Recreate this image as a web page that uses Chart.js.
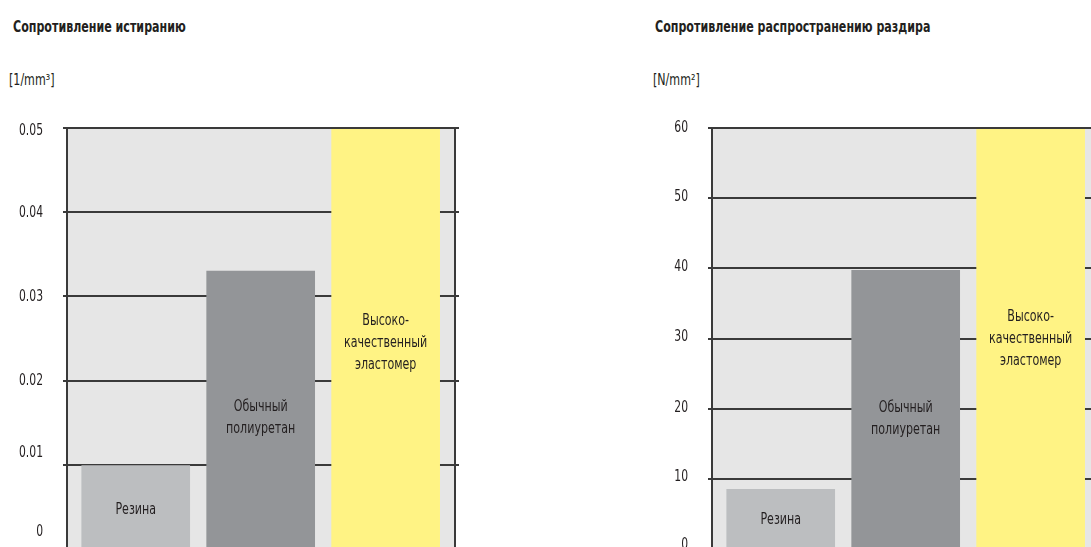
<!DOCTYPE html>
<html>
<head>
<meta charset="utf-8">
<script src="https://cdn.jsdelivr.net/npm/chart.js@4.4.0/dist/chart.umd.min.js"></script>
<style>
html, body { margin: 0; padding: 0; background: #fff; overflow: hidden; width: 1091px; height: 547px; position: relative; }
.t { position: absolute; font-family: 'DejaVu Sans Condensed', 'DejaVu Sans', sans-serif; color: #231f20; white-space: nowrap; transform: scaleX(0.77); transform-origin: 0 0; }
.title { font-weight: bold; font-size: 16px; top: 17px; }
.unit { font-size: 16px; top: 70px; }
canvas { position: absolute; top: 0; }
</style>
</head>
<body>
<div class="t title" style="left:13px">Сопротивление истиранию</div>
<div class="t unit" style="left:9px">[1/mm³]</div>
<div class="t title" style="left:655px">Сопротивление распространению раздира</div>
<div class="t unit" style="left:653px">[N/mm²]</div>
<canvas id="c1" width="470" height="560" style="left:0px"></canvas>
<canvas id="c2" width="470" height="560" style="left:645px"></canvas>
<script>
// материалы (подписи внутри столбиков)
const materials = [['Резина'], ['Обычный', 'полиуретан'], ['Высоко-', 'качественный', 'эластомер']];
const barColors = ['#bcbec0', '#939598', '#fff384'];

// сопротивление истиранию, 1/mm3
const abrasionValues = [0.0099, 0.033, 0.05];
const abrasionLabelAt = [0.0046, 0.0156, 0.0245];

// сопротивление распространению раздира
const tearValues = [8.5, 39.7, 60];
const tearLabelAt = [4.1, 18.6, 30.0];

const FONT = "'DejaVu Sans Condensed', 'DejaVu Sans', sans-serif";
const LINE = '#3a3a3a';
const INK = '#231f20';

// узкий текст: шрифт сжимается по горизонтали
function narrowText(ctx, s, x, y, align, k) {
    ctx.save();
    ctx.translate(x, y);
    ctx.scale(k, 1);
    ctx.textAlign = align;
    ctx.fillText(s, 0, 0);
    ctx.restore();
}

const areaBg = {
    id: 'areaBg',
    beforeDraw(chart) {
        const a = chart.chartArea, ctx = chart.ctx;
        ctx.save();
        ctx.fillStyle = '#e6e6e6';
        ctx.fillRect(a.left, a.top, a.right - a.left, a.bottom - a.top);
        ctx.restore();
    }
};

const barText = {
    id: 'barText',
    afterDatasetsDraw(chart, args, opts) {
        const ctx = chart.ctx, a = chart.chartArea;
        // верхняя рамка поверх столбиков
        ctx.save();
        ctx.strokeStyle = LINE;
        ctx.lineWidth = 2;
        ctx.beginPath();
        ctx.moveTo(a.left - 4, a.top);
        ctx.lineTo(a.right + 4, a.top);
        ctx.stroke();

        const meta = chart.getDatasetMeta(0);
        const y = chart.scales.y;
        ctx.fillStyle = INK;
        ctx.font = '16px ' + FONT;
        ctx.textBaseline = 'middle';
        meta.data.forEach((bar, i) => {
            const lines = materials[i];
            const cy = y.getPixelForValue(opts.at[i]);
            const lh = 22;
            lines.forEach((s, j) => {
                narrowText(ctx, s, bar.x, cy + (j - (lines.length - 1) / 2) * lh, 'center', 0.77);
            });
        });

        // подписи делений оси (в оригинале часть подписей смещена)
        ctx.font = '15px ' + FONT;
        y.ticks.forEach((t, i) => {
            const dy = opts.shift[i] || 0;
            narrowText(ctx, String(t.label), a.left - 24, y.getPixelForValue(t.value) + dy, 'right', 0.8);
        });
        ctx.restore();
    }
};

function makeChart(id, values, labelAt, maxV, step, shift) {
    new Chart(document.getElementById(id), {
        type: 'bar',
        data: {
            datasets: [{
                data: values.map((v, i) => ({ x: i, y: v })),
                backgroundColor: barColors,
                borderWidth: 0,
                barThickness: 108
            }]
        },
        options: {
            responsive: false,
            animation: false,
            layout: { padding: { top: 128, bottom: 11, left: 0, right: 10 } },
            plugins: {
                legend: { display: false },
                tooltip: { enabled: false },
                barText: { at: labelAt, shift: shift }
            },
            scales: {
                x: {
                    type: 'linear',
                    display: false,
                    offset: false,
                    min: -0.55,
                    max: 2.555
                },
                y: {
                    min: 0,
                    max: maxV,
                    afterFit: s => { s.width = 67; },
                    ticks: { stepSize: step, display: false },
                    grid: { color: LINE, lineWidth: 2, tickLength: 4 },
                    border: { display: true, color: LINE, width: 2 }
                },
                y2: {
                    position: 'right',
                    min: 0,
                    max: maxV,
                    afterFit: s => { s.width = 5; },
                    ticks: { stepSize: step, display: false },
                    grid: { color: LINE, lineWidth: 2, tickLength: 4, drawOnChartArea: false },
                    border: { display: true, color: LINE, width: 2 }
                }
            }
        },
        plugins: [areaBg, barText]
    });
}

// сдвиги подписей по порядку делений 0, 0.01, ... (пиксели)
makeChart('c1', abrasionValues, abrasionLabelAt, 0.05, 0.01, [-17, -12, 1, 1, 1, 3]);
makeChart('c2', tearValues, tearLabelAt, 60, 10, [-4, -2, -1, -1, -1, -1, 0]);
</script>
</body>
</html>
